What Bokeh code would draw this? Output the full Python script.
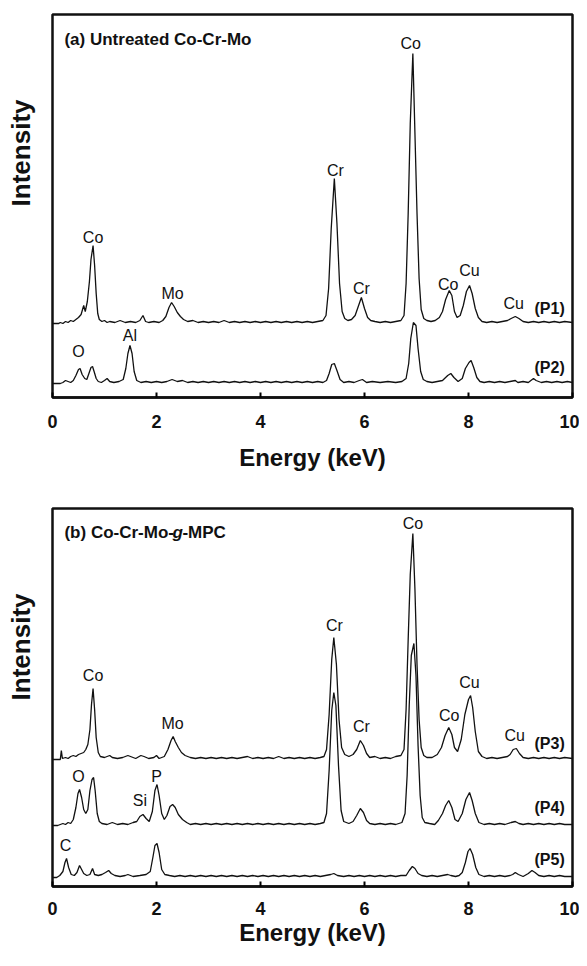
from bokeh.plotting import figure
from bokeh.layouts import column
from bokeh.models import Range1d, FixedTicker, ColumnDataSource, Title
from bokeh.core.properties import value
from bokeh.embed import file_html
from bokeh.resources import INLINE

# ---------------- data ----------------
energy_ticks = [0, 2, 4, 6, 8, 10]

# (energy keV, counts above the trace's own baseline)
spec_p1 = [(0.0,0),(0.12,0),(0.15,1),(0.2,0),(0.25,2),(0.3,1),(0.35,3),(0.4,2),(0.45,4),(0.5,6),(0.55,9),(0.6,18),(0.63,12),(0.67,22),(0.71,42),(0.74,64),(0.78,78),(0.81,58),(0.84,30),(0.87,10),(0.9,4),(0.95,2),(1.0,3),(1.05,1),(1.1,2),(1.2,1),(1.3,3),(1.4,1),(1.5,2),(1.6,1),(1.68,3),(1.74,8),(1.79,2),(1.85,1),(1.95,2),(2.05,1),(2.12,3),(2.18,7),(2.24,16),(2.29,21),(2.34,17),(2.4,11),(2.46,7),(2.52,4),(2.6,2),(2.7,3),(2.8,1),(2.9,2),(3.0,1),(3.1,2),(3.2,1),(3.3,3),(3.4,1),(3.5,2),(3.6,1),(3.7,2),(3.8,1),(3.9,2),(4.0,1),(4.1,2),(4.2,1),(4.3,2),(4.4,1),(4.5,2),(4.6,1),(4.7,2),(4.8,1),(4.9,2),(5.0,1),(5.1,2),(5.2,3),(5.26,8),(5.31,35),(5.36,95),(5.42,145),(5.47,100),(5.52,40),(5.57,12),(5.62,5),(5.68,3),(5.75,4),(5.82,8),(5.88,17),(5.94,26),(6.0,15),(6.06,6),(6.12,3),(6.2,2),(6.3,1),(6.4,2),(6.5,1),(6.6,2),(6.7,3),(6.76,8),(6.8,40),(6.84,110),(6.88,200),(6.93,270),(6.97,190),(7.01,110),(7.05,45),(7.09,14),(7.14,5),(7.2,3),(7.28,2),(7.36,3),(7.44,6),(7.5,12),(7.56,24),(7.63,33),(7.68,28),(7.73,12),(7.78,6),(7.84,8),(7.9,18),(7.96,32),(8.02,38),(8.07,30),(8.13,15),(8.19,6),(8.26,2),(8.35,1),(8.45,2),(8.55,1),(8.65,2),(8.75,3),(8.82,5),(8.9,7),(8.97,5),(9.05,2),(9.15,1),(9.25,2),(9.35,1),(9.45,2),(9.55,1),(9.65,2),(9.75,1),(9.85,2),(10.0,1)]

spec_p2 = [(0.0,0),(0.15,0),(0.2,1),(0.25,3),(0.3,2),(0.35,1),(0.4,3),(0.45,8),(0.5,14),(0.53,15),(0.57,9),(0.62,5),(0.66,4),(0.7,10),(0.74,16),(0.77,17),(0.8,12),(0.84,5),(0.88,2),(0.94,1),(1.0,3),(1.05,5),(1.1,2),(1.18,1),(1.28,2),(1.36,4),(1.41,15),(1.45,30),(1.49,38),(1.53,30),(1.57,12),(1.62,3),(1.7,1),(1.8,2),(1.9,1),(2.0,2),(2.1,1),(2.2,2),(2.3,4),(2.4,2),(2.5,3),(2.6,1),(2.7,2),(2.8,1),(2.9,2),(3.0,1),(3.1,2),(3.2,1),(3.3,2),(3.4,1),(3.5,2),(3.6,1),(3.7,2),(3.8,1),(3.9,2),(4.0,1),(4.1,2),(4.2,1),(4.3,2),(4.4,1),(4.5,2),(4.6,1),(4.7,2),(4.8,1),(4.9,2),(5.0,1),(5.1,2),(5.2,1),(5.27,3),(5.32,10),(5.37,19),(5.42,20),(5.47,13),(5.53,4),(5.6,1),(5.7,2),(5.8,1),(5.9,3),(5.96,4),(6.04,1),(6.15,2),(6.3,1),(6.45,2),(6.6,1),(6.72,2),(6.8,5),(6.85,20),(6.89,45),(6.94,61),(6.99,58),(7.03,35),(7.08,12),(7.13,4),(7.2,2),(7.3,1),(7.4,2),(7.5,3),(7.6,8),(7.66,10),(7.72,6),(7.8,2),(7.88,5),(7.94,15),(8.01,21),(8.05,23),(8.1,16),(8.16,6),(8.22,2),(8.3,1),(8.4,2),(8.5,1),(8.6,2),(8.7,1),(8.8,2),(8.9,3),(8.95,1),(9.05,2),(9.15,1),(9.2,3),(9.25,5),(9.3,3),(9.4,1),(9.5,2),(9.6,1),(9.7,2),(9.8,1),(9.9,2),(10.0,1)]

spec_p3 = [(0.0,0),(0.15,0),(0.17,9),(0.19,1),(0.25,2),(0.3,1),(0.35,3),(0.4,4),(0.45,3),(0.5,5),(0.55,6),(0.6,7),(0.64,10),(0.68,15),(0.72,30),(0.75,55),(0.78,71),(0.81,50),(0.84,22),(0.88,7),(0.92,3),(1.0,2),(1.1,4),(1.15,2),(1.25,1),(1.35,2),(1.45,4),(1.5,3),(1.6,1),(1.7,4),(1.76,3),(1.85,1),(1.95,2),(2.0,4),(2.05,1),(2.15,3),(2.22,10),(2.28,19),(2.32,23),(2.36,18),(2.42,12),(2.48,7),(2.55,4),(2.65,2),(2.75,1),(2.85,2),(2.95,1),(3.05,2),(3.15,1),(3.25,2),(3.35,1),(3.45,2),(3.55,1),(3.65,2),(3.75,3),(3.85,1),(3.95,2),(4.05,1),(4.15,2),(4.25,1),(4.35,3),(4.45,1),(4.55,2),(4.65,1),(4.75,2),(4.85,1),(4.95,2),(5.05,1),(5.15,2),(5.22,3),(5.27,10),(5.32,45),(5.37,100),(5.41,122),(5.46,95),(5.51,40),(5.56,12),(5.62,5),(5.7,3),(5.78,5),(5.85,10),(5.92,19),(5.98,14),(6.04,6),(6.1,2),(6.2,3),(6.3,1),(6.4,2),(6.5,1),(6.6,3),(6.7,4),(6.76,10),(6.8,50),(6.84,120),(6.88,185),(6.93,226),(6.97,170),(7.01,95),(7.05,40),(7.09,12),(7.14,4),(7.2,2),(7.3,2),(7.4,5),(7.48,12),(7.55,24),(7.62,32),(7.68,25),(7.73,12),(7.79,8),(7.86,20),(7.93,45),(8.0,60),(8.04,64),(8.08,52),(8.13,28),(8.19,8),(8.26,3),(8.35,1),(8.45,2),(8.55,1),(8.65,2),(8.75,3),(8.8,5),(8.86,10),(8.92,11),(8.98,6),(9.05,2),(9.15,1),(9.25,2),(9.35,1),(9.45,2),(9.55,1),(9.65,2),(9.75,1),(9.85,2),(10.0,1)]

spec_p4 = [(0.0,0),(0.1,0),(0.15,1),(0.2,2),(0.25,1),(0.3,3),(0.35,2),(0.4,6),(0.45,18),(0.49,32),(0.52,36),(0.56,28),(0.6,16),(0.64,12),(0.68,16),(0.72,35),(0.76,46),(0.79,48),(0.82,35),(0.86,12),(0.9,4),(0.95,2),(1.05,1),(1.15,3),(1.25,1),(1.35,2),(1.45,1),(1.55,3),(1.62,4),(1.68,9),(1.74,11),(1.8,7),(1.86,4),(1.92,14),(1.97,35),(2.01,41),(2.05,30),(2.1,12),(2.15,6),(2.2,10),(2.26,19),(2.31,21),(2.36,18),(2.42,11),(2.5,6),(2.58,3),(2.65,1),(2.75,2),(2.85,1),(2.95,2),(3.05,1),(3.15,2),(3.25,1),(3.35,2),(3.45,1),(3.55,2),(3.65,1),(3.75,2),(3.85,1),(3.95,2),(4.05,1),(4.15,2),(4.25,1),(4.35,2),(4.45,1),(4.55,2),(4.65,1),(4.75,2),(4.85,1),(4.95,2),(5.05,1),(5.15,2),(5.22,3),(5.27,12),(5.32,55),(5.37,115),(5.41,133),(5.45,120),(5.5,60),(5.55,15),(5.6,4),(5.7,2),(5.78,4),(5.85,10),(5.92,17),(5.98,13),(6.04,5),(6.1,2),(6.2,1),(6.3,2),(6.4,1),(6.5,2),(6.6,1),(6.72,3),(6.78,12),(6.82,50),(6.86,120),(6.9,170),(6.95,182),(6.99,150),(7.03,80),(7.07,30),(7.11,8),(7.16,3),(7.25,2),(7.35,1),(7.42,5),(7.5,12),(7.56,20),(7.62,25),(7.68,18),(7.74,6),(7.8,4),(7.88,12),(7.95,26),(8.02,33),(8.07,25),(8.13,12),(8.2,3),(8.3,1),(8.4,2),(8.5,1),(8.6,2),(8.7,1),(8.82,3),(8.9,4),(8.97,2),(9.05,1),(9.15,2),(9.25,1),(9.35,2),(9.45,1),(9.55,2),(9.65,1),(9.75,2),(9.85,1),(10.0,1)]

spec_p5 = [(0.0,0),(0.08,0),(0.14,2),(0.2,6),(0.24,15),(0.27,19),(0.31,10),(0.36,3),(0.42,2),(0.47,5),(0.52,12),(0.56,8),(0.6,4),(0.66,2),(0.72,3),(0.77,9),(0.81,3),(0.88,2),(0.95,3),(1.02,5),(1.08,7),(1.13,4),(1.2,2),(1.3,1),(1.4,2),(1.45,3),(1.55,1),(1.68,2),(1.8,3),(1.88,6),(1.93,20),(1.97,32),(2.01,34),(2.05,25),(2.1,8),(2.16,3),(2.25,2),(2.35,1),(2.45,2),(2.55,1),(2.65,2),(2.75,1),(2.85,2),(2.95,1),(3.05,2),(3.15,1),(3.25,2),(3.35,1),(3.45,2),(3.55,1),(3.65,2),(3.75,1),(3.85,2),(3.95,1),(4.05,2),(4.15,1),(4.25,2),(4.35,1),(4.45,2),(4.55,1),(4.65,2),(4.75,1),(4.85,2),(4.95,1),(5.05,2),(5.15,1),(5.25,2),(5.35,3),(5.41,4),(5.48,2),(5.6,1),(5.7,2),(5.8,1),(5.9,2),(6.0,1),(6.1,2),(6.2,1),(6.3,2),(6.4,1),(6.5,2),(6.6,1),(6.7,2),(6.8,2),(6.86,7),(6.92,11),(6.97,9),(7.03,4),(7.1,2),(7.2,1),(7.3,2),(7.4,1),(7.5,2),(7.6,3),(7.66,2),(7.75,1),(7.82,2),(7.88,5),(7.94,15),(7.99,26),(8.03,29),(8.08,23),(8.14,10),(8.2,3),(8.3,1),(8.4,2),(8.5,1),(8.6,2),(8.7,1),(8.8,2),(8.85,3),(8.9,5),(8.96,3),(9.05,1),(9.15,4),(9.22,7),(9.28,5),(9.35,2),(9.45,1),(9.55,2),(9.65,1),(9.75,2),(9.85,1),(10.0,1)]

# peak annotations: element, energy (keV), height in plot units
labels_a_text = ["Co", "Mo", "O", "Al", "Cr", "Co", "Cr", "Co", "Cu", "Cu"]
labels_a_x = [0.78, 2.31, 0.50, 1.49, 5.44, 6.89, 5.94, 7.61, 8.02, 8.87]
labels_a_y = [160, 104, 46, 62, 227, 354, 109, 113, 127, 94]

labels_b_text = ["Co", "Mo", "Cr", "Co", "Cr", "Co", "Cu", "Cu", "O", "Si", "P", "C"]
labels_b_x = [0.78, 2.31, 5.42, 6.93, 5.94, 7.63, 8.02, 8.89, 0.50, 1.68, 2.00, 0.25]
labels_b_y = [211, 163, 261, 363, 160, 171, 204, 151, 110, 86, 110, 41]

FONT = "Liberation Sans"


def make_panel(height, border_top, border_bottom, y_max, traces, offsets,
               trace_names, name_y, lab_text, lab_x, lab_y, title_parts,
               title_y, tick_standoff, title_standoff):
    p = figure(width=579, height=height, output_backend="svg",
               toolbar_location=None, x_range=Range1d(0, 10),
               y_range=Range1d(0, y_max),
               min_border_left=52, min_border_right=7,
               min_border_top=border_top, min_border_bottom=border_bottom)
    p.background_fill_color = "white"
    p.border_fill_color = "white"
    p.grid.visible = False
    p.yaxis.visible = False
    p.outline_line_color = "#111111"
    p.outline_line_width = 2.5
    p.outline_line_alpha = 1.0

    ax = p.xaxis[0]
    ax.ticker = FixedTicker(ticks=energy_ticks)
    ax.axis_line_width = 2.5
    ax.axis_line_color = "#111111"
    ax.major_tick_in = 5
    ax.major_tick_out = 0
    ax.major_tick_line_width = 2
    ax.minor_tick_line_color = None
    ax.major_label_standoff = tick_standoff
    ax.major_label_text_font = FONT
    ax.major_label_text_font_style = "bold"
    ax.major_label_text_font_size = "18px"
    ax.major_label_text_color = "#111111"
    ax.axis_label = "Energy (keV)"
    ax.axis_label_text_font = FONT
    ax.axis_label_text_font_style = "bold"
    ax.axis_label_text_font_size = "24px"
    ax.axis_label_text_color = "#111111"
    ax.axis_label_standoff = title_standoff

    # blank spacer next to the frame, then the rotated "Intensity" label
    p.add_layout(Title(text=" ", standoff=0, text_font=FONT,
                       text_font_size="13px"), "left")
    p.add_layout(Title(text="Intensity", align="right", offset=85,
                       standoff=0, text_font=FONT, text_font_size="26px",
                       text_font_style="bold", text_color="#111111"), "left")

    for spec, off in zip(traces, offsets):
        e = [pt[0] for pt in spec]
        c = [pt[1] + off for pt in spec]
        p.line(e, c, line_color="#111111", line_width=1.3)

    src = ColumnDataSource(dict(x=lab_x, y=lab_y, t=lab_text))
    p.text(x="x", y="y", text="t", source=src, text_align="center",
           text_baseline="middle", text_font=value(FONT),
           text_font_size="16px", text_color="#111111")

    nsrc = ColumnDataSource(dict(x=[9.56] * len(trace_names), y=name_y,
                                 t=trace_names))
    p.text(x="x", y="y", text="t", source=nsrc, text_align="center",
           text_baseline="middle", text_font=value(FONT),
           text_font_size="16px", text_font_style="bold",
           text_color="#111111")

    for txt, style, dx in title_parts:
        p.text(x=[0.23], y=[title_y], text=[txt], x_offset=dx,
               text_align="left", text_baseline="middle",
               text_font=value(FONT), text_font_size="17px",
               text_font_style=style, text_color="#111111")
    return p


pa = make_panel(474, 14, 77, 383, [spec_p1, spec_p2], [74, 14],
                ["(P1)", "(P2)"], [89, 30],
                labels_a_text, labels_a_x, labels_a_y,
                [("(a) Untreated Co-Cr-Mo", "bold", 0)], 358, 17, 13)

pb = make_panel(476, 34, 64, 378, [spec_p3, spec_p4, spec_p5], [127, 61, 9],
                ["(P3)", "(P4)", "(P5)"], [143, 79, 27],
                labels_b_text, labels_b_x, labels_b_y,
                [("(b) Co-Cr-Mo-", "bold", 0), ("g", "bold italic", 108),
                 ("-MPC", "bold", 118)], 354, 15, 1)

layout = column(pa, pb, spacing=0)
open("out.html", "w").write(file_html(layout, INLINE))
